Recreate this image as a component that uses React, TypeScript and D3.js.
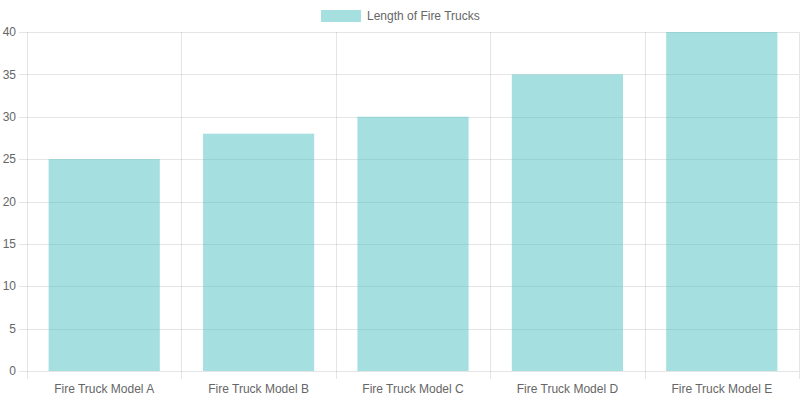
import React from "react";
import * as d3 from "d3";

const categories = ["Fire Truck Model A", "Fire Truck Model B", "Fire Truck Model C", "Fire Truck Model D", "Fire Truck Model E"];
const values = [25, 28, 30, 35, 40];
const yTicks = [0, 5, 10, 15, 20, 25, 30, 35, 40];
const seriesLabel = "Length of Fire Trucks";

const W = 800, H = 400;
const left = 27, right = 799, top = 32, bottom = 371;
const font = "'Liberation Sans', Arial, Helvetica, sans-serif";
const grid = "rgba(0,0,0,0.1)";
const fill = "rgba(75,192,192,0.5)";

export default function App() {
  const x = d3.scaleBand<string>().domain(categories).range([left, right]).paddingInner(0).paddingOuter(0);
  const y = d3.scaleLinear().domain([0, 40]).range([bottom, top]);
  const bw = x.bandwidth() * 0.72;
  const gridX = categories.map((c) => x(c)!).concat([right]);
  return (
    <svg width={W} height={H} style={{ position: "absolute", left: 0, top: 0 }} fontFamily={font}>
      <rect x={0} y={0} width={W} height={H} fill="#fff" />
      {yTicks.map((t) => (
        <g key={t}>
          <line x1={left - 8} x2={right} y1={Math.round(y(t)) + 0.5} y2={Math.round(y(t)) + 0.5} stroke={grid} />
          <text x={left - 11} y={y(t)} dy="0.35em" textAnchor="end" fontSize={12} fill="#666">{t}</text>
        </g>
      ))}
      {gridX.map((gx, i) => (
        <line key={i} x1={Math.round(gx) + 0.5} x2={Math.round(gx) + 0.5} y1={top} y2={bottom + 8} stroke={grid} />
      ))}
      {categories.map((c, i) => {
        const cx = x(c)! + x.bandwidth() / 2;
        return (
          <g key={c}>
            <rect x={cx - bw / 2} y={y(values[i])} width={bw} height={y(0) - y(values[i])} fill={fill} />
            <text x={cx} y={389} dy="0.35em" textAnchor="middle" fontSize={12} fill="#666">{c}</text>
          </g>
        );
      })}
      <rect x={321} y={10} width={40} height={12} fill={fill} />
      <text x={367} y={16} dy="0.35em" fontSize={12} fill="#666">{seriesLabel}</text>
    </svg>
  );
}
